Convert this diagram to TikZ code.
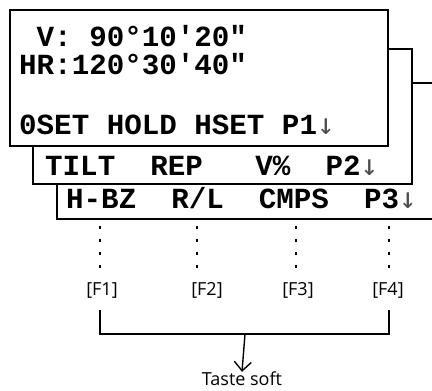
\documentclass[tikz,border=0pt]{standalone}
\usepackage{fontspec}
\usetikzlibrary{arrows.meta}
\newfontfamily\lcdfont{Liberation Mono}
\newfontfamily\arrowfont{DejaVu Sans Mono}
\newfontfamily\keyfont{Open Sans}
\newcommand{\dn}{{\arrowfont\mdseries\color{black!70}\symbol{"2193}}}
\newcommand{\sq}{\symbol{"27}}
\newcommand{\dq}{\symbol{"22}}
\tikzset{
  panel/.style={draw, fill=white, line width=1.6pt},
  lcd/.style={font=\lcdfont\bfseries\fontsize{29.2}{30}\selectfont, anchor=base west, inner sep=0pt},
  fkey/.style={font=\keyfont\fontsize{18}{20}\selectfont, inner sep=0pt},
  softline/.style={line width=1.6pt, dash pattern=on 3pt off 10pt},
}
\begin{document}
\begin{tikzpicture}[x=1pt, y=-1pt]
    \useasboundingbox (0,0) rectangle (432,391);

    % Display pages (P3 behind, P1 in front)
    \draw[panel] (57,83) rectangle (445,219);
    \draw[panel] (33,49) rectangle (412,184);
    \draw[panel] (10,10) rectangle (388,146);

    % Page 1
    \node[lcd] (vline) at (19,46) {\ V: 90\symbol{"B0}10\sq 20\dq};
    \node[lcd] (hrline) at (19,74) {HR:120\symbol{"B0}30\sq 40\dq};
    \node[lcd] (pone) at (19,134) {0SET HOLD HSET P1\dn};

    % Page 2
    \node[lcd] (ptwo) at (45,175) {TILT\ \ REP\ \ \ V\%\ \ P2\dn};

    % Page 3
    \node[lcd] (pthree) at (66,208) {H-BZ\ \ R/L\ \ CMPS\ \ P3\dn};

    % Function keys
    \node[fkey] (f1) at (102,290) {[F1]};
    \node[fkey] (f2) at (207,290) {[F2]};
    \node[fkey] (f3) at (298,290) {[F3]};
    \node[fkey] (f4) at (388,290) {[F4]};

    % Dotted guides from soft keys
    \foreach \x in {100,197,296,389}
        \draw[softline] (\x,226) -- (\x,270);

    % Bracket
    \coordinate (bl) at (100,310);
    \coordinate (br) at (389,310);
    \coordinate (bm) at (245,334);
    \draw[line width=1.4pt] (bl) |- (bm) -| (br);
    \node[fkey] (soft) at (242,379) {Taste soft};
    \draw[line width=1.4pt, -{Straight Barb[length=9pt,width=17pt]}] (bm) -- (soft.north);
\end{tikzpicture}
\end{document}
